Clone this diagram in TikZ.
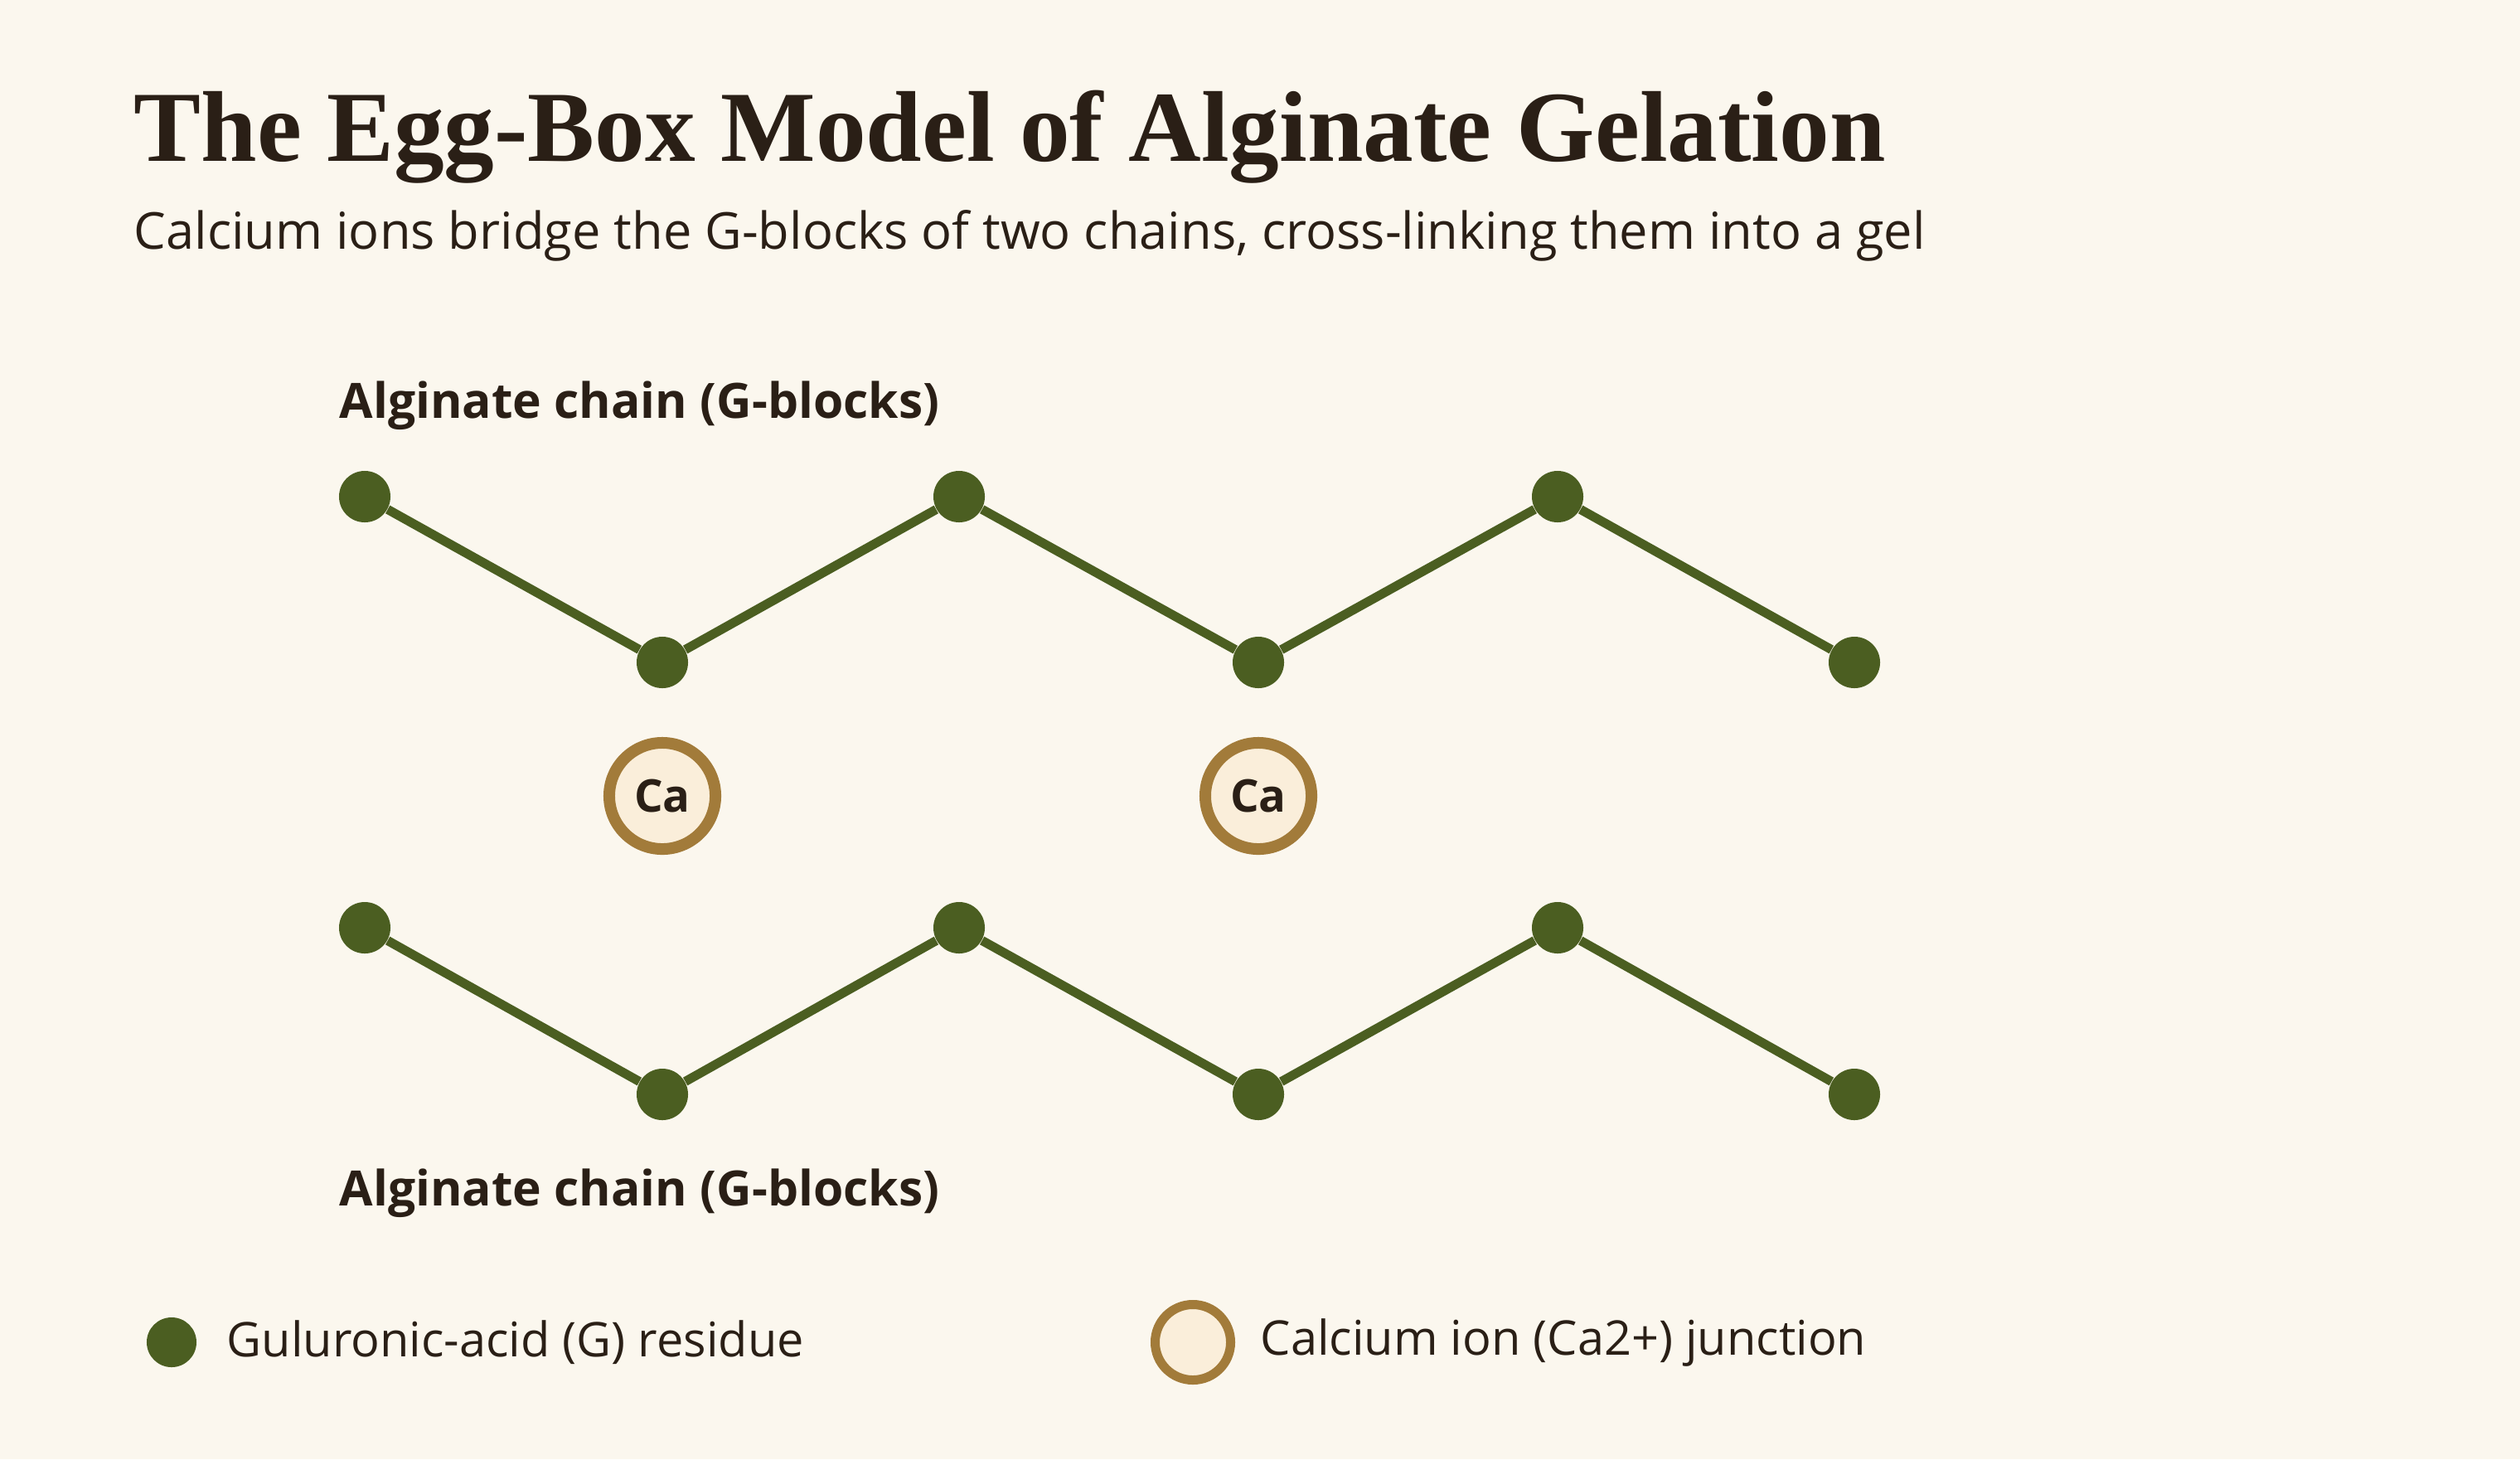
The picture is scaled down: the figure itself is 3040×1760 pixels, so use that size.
\documentclass[tikz,border=0pt]{standalone}
\usepackage{fontspec}
\setmainfont{Open Sans}
\newfontfamily\titlefont{Liberation Serif}
\usepackage{tikz}
\usetikzlibrary{positioning}
\definecolor{EggBg}{HTML}{FBF7EE}
\definecolor{EggGreen}{HTML}{4B5E21}
\definecolor{EggInk}{HTML}{2A1F16}
\definecolor{EggRing}{HTML}{A27B3A}
\definecolor{EggCa}{HTML}{FAEEDA}

\begin{document}
\begin{tikzpicture}[x=0.01cm,y=-0.01cm]
  \tikzstyle{gres}=[circle,fill=EggGreen,inner sep=0pt,minimum size=0.62cm]
  \tikzstyle{caion}=[circle,draw=EggRing,fill=EggCa,line width=0.14cm,
    inner sep=0pt,minimum size=1.28cm,text=EggInk,
    font=\fontsize{15.5}{18}\selectfont\bfseries]
  \tikzstyle{bond}=[draw=EggGreen,line width=0.11cm]
  \tikzstyle{chainlbl}=[anchor=base west,inner sep=0pt,text=EggInk,
    font=\fontsize{16.7}{20}\selectfont\bfseries]
  \tikzstyle{legtxt}=[anchor=west,inner sep=0pt,text=EggInk,
    font=\fontsize{16.4}{20}\selectfont]
  \fill[EggBg] (0,0) rectangle (3040,1760);
  % title
  \node[anchor=base west,inner sep=0pt,text=EggInk,
    font=\titlefont\fontsize{34.5}{40}\selectfont\bfseries] (title) at (161,194)
    {The Egg-Box Model of Alginate Gelation};
  \node[anchor=base west,inner sep=0pt,text=EggInk,
    font=\fontsize{17.45}{20}\selectfont] (sub) at (161,300)
    {Calcium ions bridge the G-blocks of two chains, cross-linking them into a gel};
  % chains
  \node[chainlbl] (toplbl) at (409,504) {Alginate chain (G-blocks)};
  \foreach \i/\x/\y in {1/440/599,2/799/799,3/1157/599,4/1518/799,5/1879/599,6/2237/799}
    \node[gres] (t\i) at (\x,\y) {};
  \foreach \i/\x/\y in {1/440/1119,2/799/1320,3/1157/1119,4/1518/1320,5/1879/1119,6/2237/1320}
    \node[gres] (b\i) at (\x,\y) {};
  \draw[bond] (t1)--(t2)--(t3)--(t4)--(t5)--(t6);
  \draw[bond] (b1)--(b2)--(b3)--(b4)--(b5)--(b6);
  \node[caion] (ca1) at (799,960) {Ca};
  \node[caion] (ca2) at (1518,960) {Ca};
  \node[chainlbl] (botlbl) at (409,1454) {Alginate chain (G-blocks)};
  % legend
  \node[gres,minimum size=0.6cm] (keyg) at (207,1619) {};
  \node[legtxt] (keygtxt) at (273,1619) {Guluronic-acid (G) residue};
  \node[caion,minimum size=0.91cm,line width=0.11cm] (keyca) at (1439,1619) {};
  \node[legtxt] (keycatxt) at (1520,1619) {Calcium ion (Ca2+) junction};
\end{tikzpicture}
\end{document}
